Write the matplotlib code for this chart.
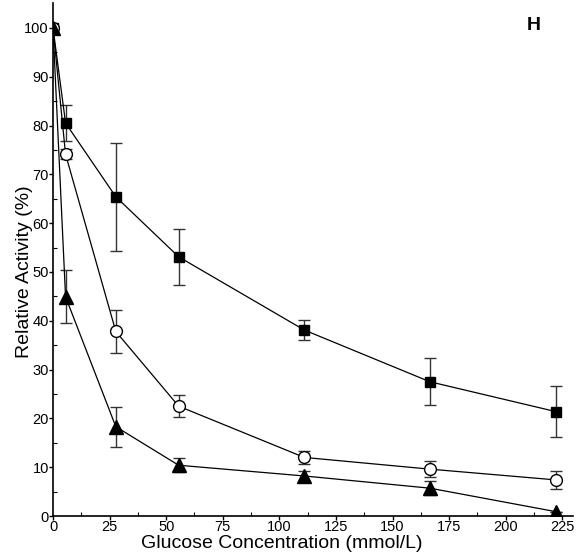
import matplotlib.pyplot as plt
import numpy as np

plt.rcParams['font.family'] = ['Liberation Sans', 'DejaVu Sans']

glucose = [0, 5.55, 27.75, 55.5, 111, 166.5, 222]

square_y = [100, 80.5, 65.4, 53.1, 38.1, 27.5, 21.4]
square_err = [0, 3.7, 11.1, 5.7, 2.0, 4.8, 5.2]

circle_y = [100, 74.1, 37.8, 22.5, 12.0, 9.6, 7.4]
circle_err = [0, 1.0, 4.5, 2.2, 1.3, 1.6, 1.8]

triangle_y = [100, 44.9, 18.3, 10.4, 8.2, 5.7, 0.9]
triangle_err = [0, 5.4, 4.1, 1.4, 1.0, 1.5, 0]

fig = plt.figure(figsize=(5.81, 5.58), dpi=100)
ax = fig.add_axes([53 / 581, 42 / 558, 520 / 581, 513 / 558])

series = [
    (square_y, square_err, 's', 'black', 7.5),
    (circle_y, circle_err, 'o', 'white', 8.5),
    (triangle_y, triangle_err, '^', 'black', 9.5),
]
for y, err, m, face, ms in series:
    ax.errorbar(glucose, y, yerr=err, fmt='none', ecolor='#333333',
                elinewidth=1.0, capsize=4, capthick=1.0, zorder=2)
    ax.plot(glucose, y, color='black', lw=0.9, marker=m, markersize=ms,
            markerfacecolor=face, markeredgecolor='black',
            markeredgewidth=1.0, zorder=3)

ax.set_xlim(0, 229.7)
ax.set_ylim(0, 105.1)
ax.set_xticks(np.arange(0, 226, 25))
ax.set_xticks(np.arange(12.5, 226, 25), minor=True)
ax.set_yticks(np.arange(0, 101, 10))
ax.set_yticks(np.arange(5, 101, 10), minor=True)

for side in ['top', 'right']:
    ax.spines[side].set_visible(False)
for side in ['left', 'bottom']:
    ax.spines[side].set_linewidth(1.2)

ax.tick_params(which='major', direction='out', length=3, width=1,
               labelsize=10.5, pad=0)
ax.tick_params(which='minor', direction='in', length=3, width=0.8)

ax.set_xlabel('Glucose Concentration (mmol/L)', fontsize=14)
ax.set_ylabel('Relative Activity (%)', fontsize=14)
ax.xaxis.set_label_coords(0.44, -0.037)
ax.yaxis.set_label_coords(-0.038, 0.476)

fig.text(534 / 581, 1 - 25 / 558, 'H', ha='center', va='center',
         fontsize=14, fontweight='bold')

fig.savefig('out.png', dpi=100)
